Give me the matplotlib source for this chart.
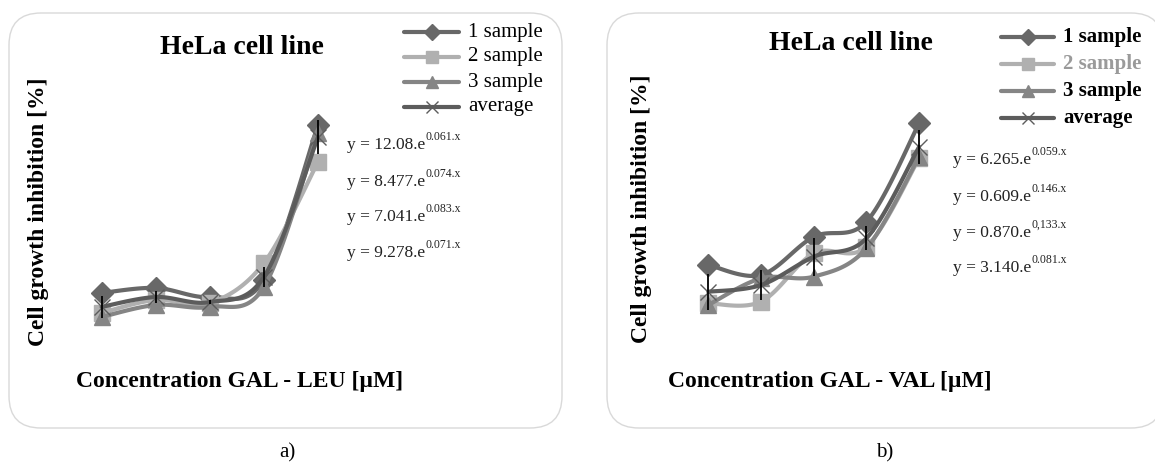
import numpy as np
import matplotlib
matplotlib.use("Agg")
import matplotlib.pyplot as plt
from matplotlib.patches import FancyBboxPatch

plt.rcParams['font.family'] = ['Liberation Serif', 'DejaVu Serif']

# ---------------- data ----------------
concentration_idx = [1, 2, 3, 4, 5]
series_labels = ['1 sample', '2 sample', '3 sample', 'average']

# panel a) GAL - LEU  (cell growth inhibition, %)
leu_s1 = [19.6, 21.7, 17.9, 25.0, 89.6]
leu_s2 = [11.3, 16.7, 15.4, 32.1, 74.2]
leu_s3 = [9.6, 14.6, 13.8, 22.1, 86.3]
leu_avg = [13.8, 17.9, 15.8, 26.3, 84.6]
leu_err = [4.6, 2.5, 0.8, 4.2, 7.1]
leu_eq_base = ['y = 12.08.e', 'y = 8.477.e', 'y = 7.041.e', 'y = 9.278.e']
leu_eq_exp = ['0.061.x', '0.074.x', '0.083.x', '0.071.x']

# panel b) GAL - VAL
val_s1 = [31.3, 27.1, 43.0, 49.3, 90.3]
val_s2 = [15.3, 16.0, 36.1, 38.9, 75.7]
val_s3 = [14.6, 25.7, 26.4, 38.2, 76.4]
val_avg = [20.1, 22.9, 34.7, 42.4, 80.5]
val_err = [7.5, 6.3, 7.9, 5.0, 7.1]
val_eq_base = ['y = 6.265.e', 'y = 0.609.e', 'y = 0.870.e', 'y = 3.140.e']
val_eq_exp = ['0.059.x', '0.146.x', '0,133.x', '0.081.x']

# ---------------- styles ----------------
colors = ['#686868', '#b0b0b0', '#858585', '#5c5c5c']
markers = ['D', 's', '^', 'x']
msizes = [11, 11, 11, 12]

W, H = 1155, 462
fig = plt.figure(figsize=(W / 100, H / 100), dpi=100)


def fx(px):
    return px / W


def fy(py):
    return 1 - py / H


def smooth(x, y, n=30):
    x = np.asarray(x, float)
    y = np.asarray(y, float)
    P = np.column_stack([x, y])
    Pp = np.vstack([P[0], P, P[-1]])
    out = []
    for i in range(len(P) - 1):
        p0, p1, p2, p3 = Pp[i], Pp[i + 1], Pp[i + 2], Pp[i + 3]
        m1 = (p2 - p0) / 2
        m2 = (p3 - p1) / 2
        t = np.linspace(0, 1, n)[:, None]
        h00 = 2 * t**3 - 3 * t**2 + 1
        h10 = t**3 - 2 * t**2 + t
        h01 = -2 * t**3 + 3 * t**2
        h11 = t**3 - t**2
        out.append(h00 * p1 + h10 * m1 + h01 * p2 + h11 * m2)
    c = np.vstack(out)
    return c[:, 0], c[:, 1]


def panel(box_x0, box_x1, ax_left_px, ax_w_px, series, err, eq_base, eq_exp,
          title_c, ylab_c, xlab, xlab_c, leg_x, leg_y, leg_bold, eq_x, eq_y, tag, tag_c):
    # rounded frame
    box = FancyBboxPatch((box_x0 / 100, (H - 428) / 100), (box_x1 - box_x0) / 100, (428 - 13) / 100,
                         boxstyle="round,pad=0,rounding_size=0.32",
                         transform=fig.dpi_scale_trans, facecolor='white',
                         edgecolor='#d9d9d9', lw=1.0, zorder=0)
    fig.add_artist(box)

    ax = fig.add_axes([fx(ax_left_px), fy(340), ax_w_px / W, 240 / H])
    ax.set_xlim(0.5, 5.5)
    ax.set_ylim(0, 100)
    ax.axis('off')
    for k, ys in enumerate(series):
        sx, sy = smooth(concentration_idx, ys)
        ax.plot(sx, sy, color=colors[k], lw=3.0, solid_capstyle='round', zorder=2 + k)
        ax.plot(concentration_idx, ys, ls='none', marker=markers[k], ms=msizes[k],
                color=colors[k], mec=colors[k], mew=1.0, zorder=2 + k)
    ax.errorbar(concentration_idx, series[3], yerr=err, fmt='none', ecolor='black',
                elinewidth=1.3, capsize=0, zorder=10)

    fig.text(fx(title_c[0]), fy(title_c[1]), 'HeLa cell line', ha='center', va='center',
             fontsize=20, fontweight='bold')
    fig.text(fx(ylab_c[0]), fy(ylab_c[1]), 'Cell growth inhibition [%]', ha='center', va='center',
             rotation=90, fontsize=17, fontweight='bold')
    fig.text(fx(xlab_c[0]), fy(xlab_c[1]), xlab, ha='center', va='center',
             fontsize=17, fontweight='bold')

    # legend
    lax = fig.add_axes([0, 0, 1, 1], zorder=20)
    lax.set_xlim(0, W)
    lax.set_ylim(H, 0)
    lax.axis('off')
    for k, lab in enumerate(series_labels):
        yy = leg_y[k]
        lax.plot([leg_x[0], leg_x[1]], [yy, yy], color=colors[k], lw=3.0, solid_capstyle='round')
        lax.plot([(leg_x[0] + leg_x[1]) / 2], [yy], marker=markers[k], ms=msizes[k] * 0.75,
                 color=colors[k], mec=colors[k], mew=1.0)
        tc = 'black'
        if leg_bold and k == 1:
            tc = '#9a9a9a'
        fig.text(fx(leg_x[2]), fy(yy), lab, ha='left', va='center', fontsize=15,
                 fontweight='bold' if leg_bold else 'normal', color=tc)

    for k in range(len(eq_base)):
        t = lax.text(eq_x, eq_y[k], eq_base[k], ha='left', va='center', fontsize=12.5,
                     color='#222222')
        lax.annotate(eq_exp[k], xy=(1.0, 0.62), xycoords=t, ha='left', va='bottom',
                     fontsize=8.5, color='#222222')

    fig.text(fx(tag_c[0]), fy(tag_c[1]), tag, ha='center', va='center', fontsize=15)


panel(9, 562, 74.6, 270.5, [leu_s1, leu_s2, leu_s3, leu_avg], leu_err, leu_eq_base, leu_eq_exp,
      (242, 47), (39, 212), 'Concentration GAL - LEU [\u00b5M]', (240, 382),
      (404, 459, 468), [32, 57, 82, 107], False, 347, [145, 182, 217, 253], 'a)', (287, 453))

panel(607, 1163, 682, 263.5, [val_s1, val_s2, val_s3, val_avg], val_err, val_eq_base, val_eq_exp,
      (851, 43), (642, 209), 'Concentration GAL - VAL [\u00b5M]', (830, 382),
      (1001, 1054, 1063), [37, 64, 91, 118], True, 953, [160, 197, 233, 268], 'b)', (885, 453))

fig.savefig('out.png', dpi=100, facecolor='white')
